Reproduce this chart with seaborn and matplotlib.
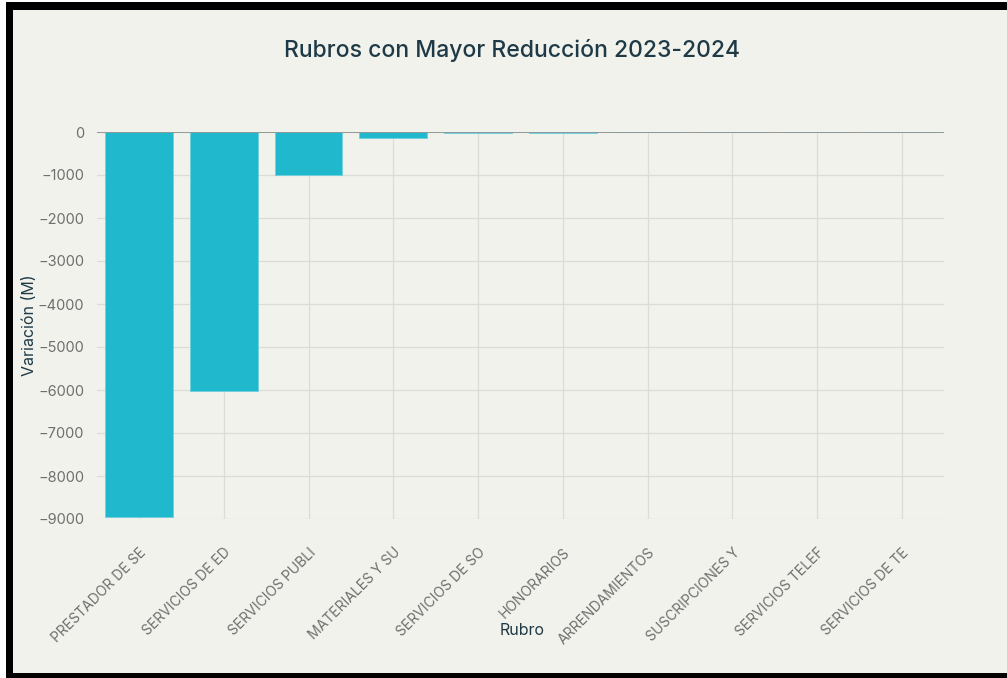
import pandas as pd
import matplotlib
matplotlib.use('Agg')
import matplotlib.pyplot as plt
from matplotlib.patches import Rectangle
import seaborn as sns

# datos (millones)
rubros = ['PRESTADOR DE SE', 'SERVICIOS DE ED', 'SERVICIOS PUBLI', 'MATERIALES Y SU',
          'SERVICIOS DE SO', 'HONORARIOS', 'ARRENDAMIENTOS', 'SUSCRIPCIONES Y',
          'SERVICIOS TELEF', 'SERVICIOS DE TE']
variacion = [-8960, -6020, -1005, -148, -22, -18, -6, -4, -2, -1]
yticks = [0, -1000, -2000, -3000, -4000, -5000, -6000, -7000, -8000, -9000]

df = pd.DataFrame({'Rubro': rubros, 'Variacion': variacion})

bg = '#f2f2ed'
sns.set_theme(style='white')
plt.rcParams['font.family'] = ['Inter', 'DejaVu Sans']

fig = plt.figure(figsize=(10.07, 6.78), dpi=100, facecolor='white')
# marco negro alrededor
fig.patches.append(Rectangle((6 / 1007, 0), 1.0, 1 - 2 / 678, transform=fig.transFigure,
                             facecolor='black', edgecolor='none', zorder=-2))
fig.patches.append(Rectangle((13 / 1007, 5 / 678), 1.0, 1 - 15 / 678, transform=fig.transFigure,
                             facecolor=bg, edgecolor='none', zorder=-1))

ax = fig.add_axes([96.6 / 1007, 1 - 519 / 678, (944.4 - 96.6) / 1007, (519 - 132) / 678])
ax.set_facecolor(bg)

sns.barplot(data=df, x='Rubro', y='Variacion', color='#1fb8cd', saturation=1, width=0.8,
            edgecolor='#6fd0dd', linewidth=0.6, ax=ax, zorder=3)

ax.set_ylim(-9000, 0)
ax.set_yticks(yticks)
ax.set_yticklabels([str(v).replace('-', '\u2212') for v in yticks])
ax.grid(True, color='#dcdcd6', linewidth=0.9, zorder=0)
ax.axhline(0, color='#8f9593', linewidth=1.3, zorder=4)
for s in ax.spines.values():
    s.set_visible(False)

ax.tick_params(axis='y', length=6, color='#dcdcd6', colors='#6e6e6e', labelsize=10.5, pad=3)
ax.tick_params(axis='x', length=17, width=0.9, color='#dcdcd6', labelsize=10, pad=2)
for lab in ax.get_xticklabels():
    lab.set_rotation(45)
    lab.set_ha('right')
    lab.set_rotation_mode('anchor')
    lab.set_color('#6e6e6e')

ax.set_xlabel('Rubro', fontsize=11.5, color='#1e3a46')
ax.set_ylabel('Variación (M)', fontsize=11.5, color='#1e3a46')
ax.yaxis.set_label_coords(-0.07, 0.5)
ax.xaxis.set_label_coords(0.502, -0.268)

fig.text(0.508, 1 - 50 / 678, 'Rubros con Mayor Reducción 2023-2024', ha='center', va='center',
         fontsize=16.5, fontweight='medium', color='#1e3a46')

fig.savefig('out.png', dpi=100, facecolor=fig.get_facecolor())
